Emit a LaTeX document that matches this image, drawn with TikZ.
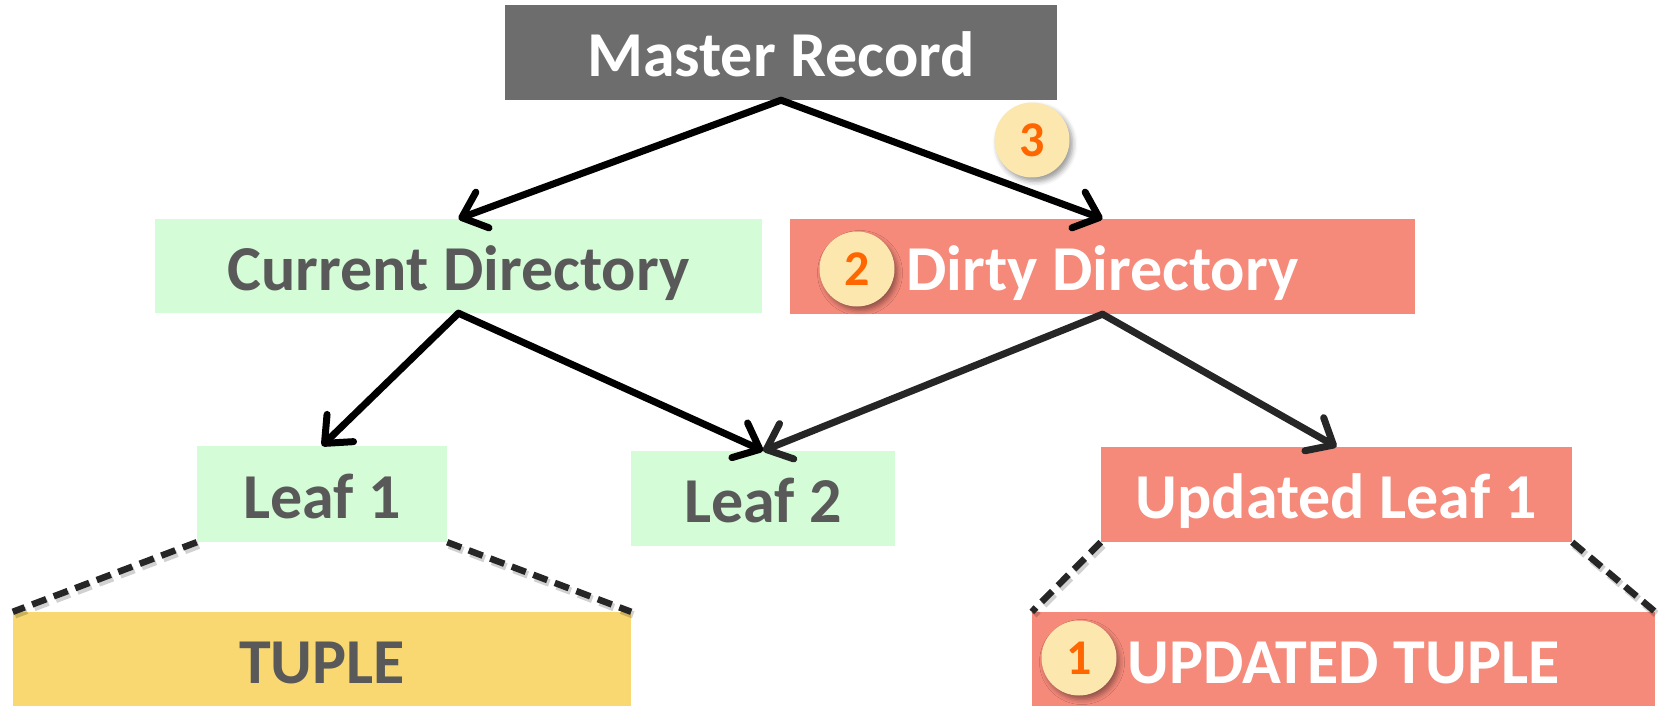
\documentclass[tikz,border=0pt]{standalone}
\usepackage{fontspec}
\setmainfont{Carlito}
\usetikzlibrary{arrows.meta,shadows.blur}

\definecolor{mastergray}{HTML}{6D6D6D}
\definecolor{leafgreen}{HTML}{D4FCD6}
\definecolor{dirtysalmon}{HTML}{F5897A}
\definecolor{tupleyellow}{HTML}{F9D872}
\definecolor{badgefill}{HTML}{FCE7AE}
\definecolor{badgeorange}{HTML}{FF6600}
\definecolor{labelgray}{HTML}{595959}
\definecolor{dashgray}{HTML}{262626}

\begin{document}
\begin{tikzpicture}[x=1pt, y=-1pt,
  box/.style={rectangle, inner sep=0pt, draw=none,
    font=\fontsize{64}{72}\selectfont\bfseries,
    text height=48pt, text depth=0pt},
  cleanbox/.style={box, fill=leafgreen, text=labelgray},
  dirtybox/.style={box, fill=dirtysalmon, text=white},
  badge/.style={circle, fill=badgefill, minimum size=75pt, inner sep=0pt,
    text=badgeorange, font=\fontsize{50}{54}\selectfont\bfseries,
    blur shadow={shadow xshift=3pt, shadow yshift=-4pt,
      shadow blur radius=5pt, shadow opacity=40}},
  link/.style={line width=7pt, line cap=round, line join=round,
    -{Straight Barb[length=22pt, width=38pt, round]}},
  split/.style={line width=6.5pt, dashgray, dash pattern=on 15pt off 8pt},
  splitshadow/.style={line width=7.5pt, black, opacity=0.18, dash pattern=on 15pt off 8pt}
]
\useasboundingbox (0,0) rectangle (1658,706);

% boxes
\node[box, fill=mastergray, text=white,
  minimum width=552pt, minimum height=95pt] (master) at (781,52.5) {Master Record};
\node[cleanbox, minimum width=607pt, minimum height=94pt] (current) at (458.5,266) {Current Directory};
\node[dirtybox, minimum width=625pt, minimum height=95pt] (dirty) at (1102.5,266.5) {Dirty Directory};
\node[cleanbox, minimum width=250pt, minimum height=96pt] (leafA) at (322,494) {Leaf 1};
\node[cleanbox, minimum width=264pt, minimum height=95pt] (leafB) at (763,498.5) {Leaf 2};
\node[dirtybox, minimum width=471pt, minimum height=95pt] (leafNew) at (1336.5,494.5) {Updated Leaf 1};
\node[box, fill=tupleyellow, text=labelgray, minimum width=618pt, minimum height=94pt] (tuple) at (322,659) {TUPLE};
\node[dirtybox, minimum width=623pt, minimum height=94pt] (tupleNew) at (1343.5,659) {UPDATED TUPLE};

% pointers
\draw[link, black] (master.south) -- (current.north);
\draw[link, black] (master.south) -- (dirty.north);
\draw[link, black] (current.south) -- (leafA.north);
\draw[link, black] (current.south) -- (leafB.north);
\draw[link, dashgray] (dirty.south) -- (leafB.north);
\draw[link, dashgray] (dirty.south) -- (leafNew.north);

% leaf contents
\foreach \a/\b in {leafA.south west/tuple.north west, leafA.south east/tuple.north east,
                   leafNew.south west/tupleNew.north west, leafNew.south east/tupleNew.north east}{
  \draw[splitshadow, transform canvas={xshift=2pt, yshift=-3pt}] (\a) -- (\b);
  \draw[split] (\a) -- (\b);
}

% step badges
\node[badge] (stepOne) at (1079,658) {1};
\node[badge] (stepTwo) at (857,269) {2};
\node[badge] (stepThree) at (1032,140) {3};
\end{tikzpicture}
\end{document}
